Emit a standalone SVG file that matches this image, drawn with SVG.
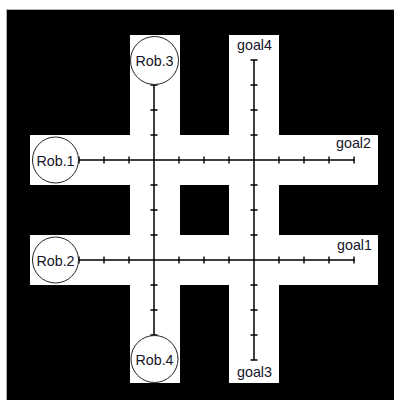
<svg xmlns="http://www.w3.org/2000/svg" width="394" height="400" viewBox="0 0 394 400">
<style>
.bg{fill:#000}
.band{fill:#fff}
.axis{stroke:#000;stroke-width:1.5;fill:none}
.tick{stroke:#000;stroke-width:1.4;fill:none}
.rob{fill:#fff;stroke:#222;stroke-width:1}
.lbl{font-family:"Liberation Sans",Arial,sans-serif;font-size:14.3px;fill:#141428}
</style>
<rect x="0" y="0" width="394" height="400" fill="#fff"/>
<rect x="6.5" y="9.5" width="390" height="393" fill="none" stroke="#b0b0b0" stroke-width="1"/>
<rect class="bg" x="7" y="10" width="387" height="390"/>
<g id="corridors">
<rect class="band" x="130" y="35" width="50" height="348"/>
<rect class="band" x="229" y="35" width="50" height="348"/>
<rect class="band" x="30" y="135" width="348" height="50"/>
<rect class="band" x="30" y="235" width="348" height="50"/>
</g>
<g id="connectors">
<path class="axis" d="M79 160H355M79 260H355M154 85V335M254 60V360"/>
<path class="tick" d="M79 156.5v7M104 156.5v7M129 156.5v7M179 156.5v7M204 156.5v7M229 156.5v7M279 156.5v7M304 156.5v7M329 156.5v7M354 156.5v7
M79 256.5v7M104 256.5v7M129 256.5v7M179 256.5v7M204 256.5v7M229 256.5v7M279 256.5v7M304 256.5v7M329 256.5v7M354 256.5v7
M150.5 85h7M150.5 110h7M150.5 135h7M150.5 185h7M150.5 210h7M150.5 235h7M150.5 285h7M150.5 310h7M150.5 335h7
M250.5 60h7M250.5 85h7M250.5 110h7M250.5 135h7M250.5 185h7M250.5 210h7M250.5 235h7M250.5 285h7M250.5 310h7M250.5 335h7M250.5 360h7"/>
</g>
<g id="rob1"><circle class="rob" cx="55.5" cy="160" r="23"/><text class="lbl" x="55.5" y="165.5" text-anchor="middle">Rob.1</text></g>
<g id="rob2"><circle class="rob" cx="55.5" cy="260" r="23"/><text class="lbl" x="55.5" y="265.5" text-anchor="middle">Rob.2</text></g>
<g id="rob3"><circle class="rob" cx="154.5" cy="60.5" r="24"/><text class="lbl" x="154.5" y="66" text-anchor="middle">Rob.3</text></g>
<g id="rob4"><circle class="rob" cx="154.5" cy="359" r="23.5"/><text class="lbl" x="154.5" y="364.5" text-anchor="middle">Rob.4</text></g>
<g id="goal4"><text class="lbl" x="254.5" y="50" text-anchor="middle">goal4</text></g>
<g id="goal2"><text class="lbl" x="371" y="148" text-anchor="end">goal2</text></g>
<g id="goal1"><text class="lbl" x="372" y="250" text-anchor="end">goal1</text></g>
<g id="goal3"><text class="lbl" x="254.5" y="376.5" text-anchor="middle">goal3</text></g>
</svg>
